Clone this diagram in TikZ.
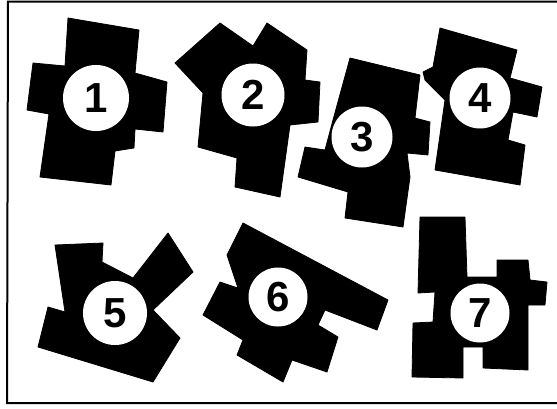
\documentclass[tikz,border=0pt]{standalone}
\usepackage{fontspec}
\setmainfont{Liberation Sans}
\begin{document}
\begin{tikzpicture}[x=1pt,y=-1pt,
  blob/.style={fill=black,draw=black,line width=0.8pt,line join=round},
  disc/.style={circle,fill=white,inner sep=0pt,font=\fontsize{42}{42}\selectfont\bfseries},
  frameline/.style={line width=2pt}]
\useasboundingbox (0,0) rectangle (557,408);
% frame
\coordinate (f1) at (557,1.5);
\coordinate (f2) at (8,1.5);
\coordinate (f3) at (7,403);
\coordinate (f4) at (557,403);
\draw[frameline] (f1) -- (f2) -- (f3) -- (f4);
% shape 1
\fill[blob] (68,18) -- (139,30) -- (135,73) -- (167,82) -- (163,132) -- (135,129) -- (134,148) -- (115,151) -- (111,185) -- (40,177) -- (49,114) -- (27,110) -- (33,63) -- (65,66) -- cycle;
\node[disc,minimum size=66pt] (n1) at (96,98) {1};
% shape 2
\fill[blob] (220,23) -- (253,46) -- (267,23) -- (307,50) -- (305,80) -- (320,82) -- (318,122) -- (290,125) -- (280,197) -- (235,187) -- (237,158) -- (198,147) -- (203,93) -- (175,63) -- cycle;
\node[disc,minimum size=63pt] (n2) at (253,95) {2};
% shape 3
\fill[blob] (350,58) -- (420,75) -- (415,118) -- (430,122) -- (428,155) -- (407,153) -- (410,177) -- (403,227) -- (345,218) -- (348,192) -- (298,177) -- (305,147) -- (325,150) -- (333,120) -- cycle;
\node[disc,minimum size=61pt] (n3) at (362,137) {3};
% shape 4
\fill[blob] (440,28) -- (517,50) -- (510,78) -- (542,87) -- (537,117) -- (513,112) -- (508,140) -- (525,145) -- (520,185) -- (435,170) -- (445,100) -- (425,80) -- (423,72) -- (433,67) -- cycle;
\node[disc,minimum size=61pt] (n4) at (480,98) {4};
% shape 5
\fill[blob] (55,245) -- (103,243) -- (102,262) -- (133,278) -- (168,233) -- (193,272) -- (153,310) -- (180,338) -- (153,382) -- (38,347) -- (48,307) -- (65,312) -- cycle;
\node[disc,minimum size=64pt] (n5) at (115,313) {5};
% shape 6
\fill[blob] (243,223) -- (388,300) -- (377,330) -- (325,310) -- (318,325) -- (338,337) -- (327,372) -- (292,360) -- (283,382) -- (237,355) -- (243,340) -- (203,315) -- (220,282) -- (238,288) -- (227,255) -- cycle;
\node[disc,minimum size=59pt] (n6) at (278,297) {6};
% shape 7
\fill[blob] (420,217) -- (465,217) -- (467,277) -- (497,277) -- (497,260) -- (528,260) -- (530,280) -- (547,282) -- (545,305) -- (528,305) -- (528,370) -- (483,368) -- (483,347) -- (463,347) -- (463,378) -- (412,377) -- (413,323) -- (433,322) -- (435,292) -- (418,293) -- cycle;
\node[disc,minimum size=59pt] (n7) at (480,313) {7};
\end{tikzpicture}
\end{document}
